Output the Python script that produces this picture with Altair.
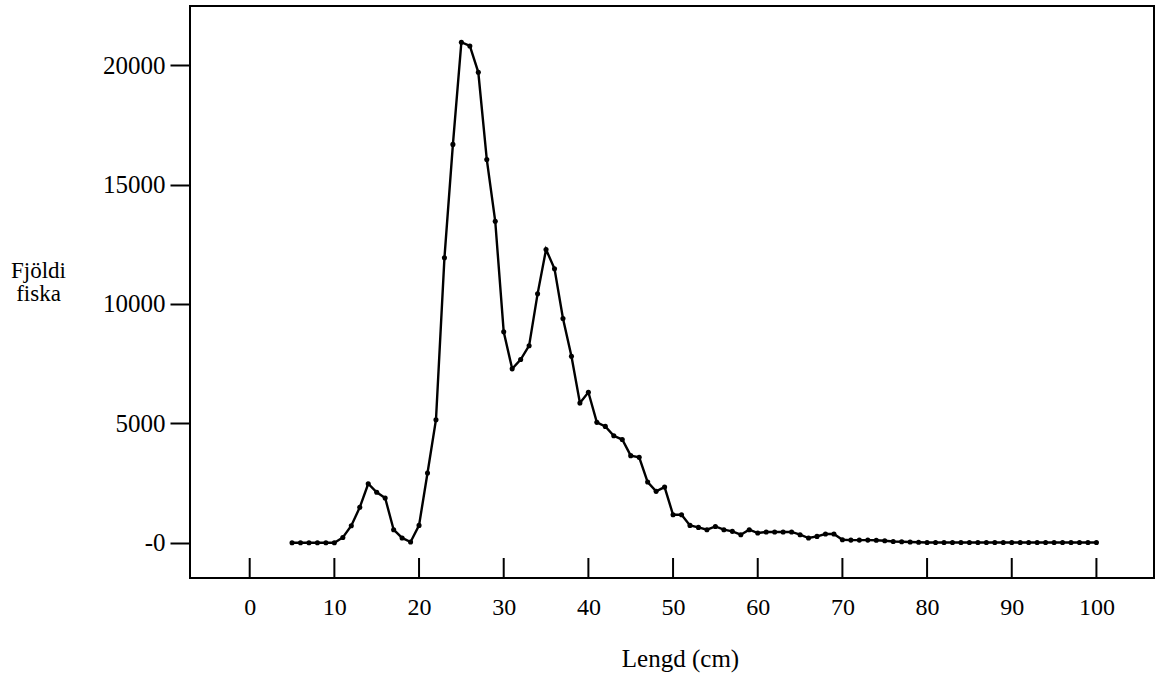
import altair as alt
import pandas as pd

lengths = list(range(5, 101))
counts = [
    0, 0, 0, 0, 0, 0,            # 5-10
    220, 710, 1480, 2470, 2110, 1870, 545, 200, 30, 725,   # 11-20
    2920, 5150, 11930, 16680, 20960, 20800, 19700, 16050, 13460, 8830,  # 21-30
    7280, 7670, 8250, 10420, 12280, 11470, 9390, 7810, 5850, 6300,  # 31-40
    5040, 4870, 4480, 4320, 3645, 3575, 2540, 2150, 2330, 1170,  # 41-50
    1170, 725, 640, 545, 680, 545, 475, 335, 545, 405,  # 51-60
    450, 450, 450, 450, 335, 195, 265, 365, 365, 125,  # 61-70
    110, 110, 110, 100, 80, 50, 40, 30, 20, 10,  # 71-80
    10, 10, 10, 10, 10, 10, 10, 10, 10, 10,  # 81-90
    10, 10, 10, 10, 10, 10, 10, 10, 10, 10,  # 91-100
]
x_ticks = [0, 10, 20, 30, 40, 50, 60, 70, 80, 90, 100]
y_ticks = [0, 5000, 10000, 15000, 20000]

df = pd.DataFrame({"Lengd": lengths, "Fjoldi": counts})
ticks_df = pd.DataFrame({"Lengd": x_ticks})

FONT = "Liberation Serif"
xscale = alt.Scale(domain=[-7.05, 106.8], nice=False, zero=False)
yscale = alt.Scale(domain=[-1478, 22475], nice=False, zero=False)

xaxis = alt.Axis(values=x_ticks, title="Lengd (cm)", domain=False,
                 tickSize=0, grid=False, labelFont=FONT, labelFontSize=24,
                 labelColor="black", labelPadding=17,
                 titleFont=FONT, titleFontSize=25, titleFontWeight="normal",
                 titleColor="black", titleX=490, titleY=88,
                 titleBaseline="alphabetic")

line = alt.Chart(df).mark_line(
    color="black", strokeWidth=2.4,
    point=alt.OverlayMarkDef(filled=True, color="black", size=26),
).encode(
    x=alt.X("Lengd:Q", scale=xscale, axis=xaxis),
    y=alt.Y("Fjoldi:Q", scale=yscale,
            axis=alt.Axis(values=y_ticks, format="d",
                          labelExpr="datum.value == 0 ? '-0' : datum.label",
                          title=["Fjöldi", "fiska"], domain=False, grid=False,
                          tickSize=20, tickWidth=2, tickColor="black",
                          labelFont=FONT, labelFontSize=25, labelColor="black",
                          labelPadding=5,
                          titleFont=FONT, titleFontSize=23, titleFontWeight="normal",
                          titleColor="black", titleAngle=0, titleAlign="center",
                          titleX=-152, titleY=271, titleBaseline="alphabetic",
                          titleLineHeight=23)),
)

inner_ticks = alt.Chart(ticks_df).mark_rule(color="black", strokeWidth=2).encode(
    x=alt.X("Lengd:Q", scale=xscale, axis=xaxis),
    y=alt.value(572),
    y2=alt.value(552),
)

chart = alt.layer(line, inner_ticks).properties(
    width=964, height=572,
    padding={"left": 190, "top": 6, "right": 1, "bottom": 98},
    autosize=alt.AutoSizeParams(type="none"),
    background="white",
).configure_view(stroke="black", strokeWidth=2)

chart.save("out.html", embed_options={"renderer": "svg", "actions": False})
